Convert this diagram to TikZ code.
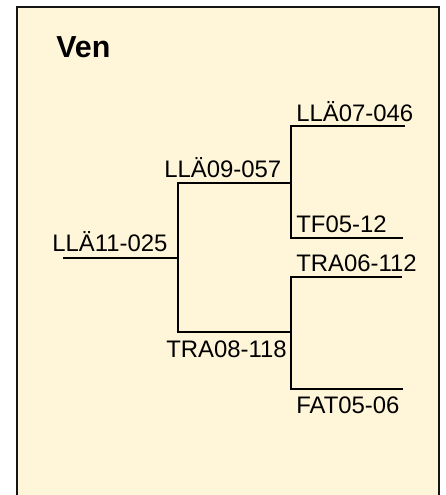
\documentclass[tikz,border=0pt]{standalone}
\usepackage{fontspec}
\setmainfont{Liberation Sans}
\usepackage{xcolor}
\usetikzlibrary{positioning}
\definecolor{venbg}{RGB}{255, 246, 217}
\definecolor{venframe}{RGB}{20, 20, 20}
\definecolor{venline}{RGB}{0, 0, 0}

\begin{document}
\begin{tikzpicture}[
    x=0.02cm, y=-0.02cm,
    title/.style={
        font=\fontsize{17.3}{20}\selectfont\bfseries,
        anchor=base west,
        inner sep=0pt
    },
    tag/.style={
        font=\fontsize{13.6}{16}\selectfont,
        anchor=base west,
        inner sep=0pt
    },
    branch/.style={
        draw=venline,
        line width=1.1pt
    }
]

\useasboundingbox (0,0) rectangle (446,495);

% Background rectangle
\begin{scope}
    \clip (0,0) rectangle (446,495);
    \draw[fill=venbg, draw=venframe, line width=1.4pt] (17,7) rectangle (439,530);
\end{scope}

% Title
\node[title] (ven) at (56,57) {Ven};

% Junction points
\coordinate (r0) at (63,258);
\coordinate (r1) at (178,258);
\coordinate (u0) at (178,183);
\coordinate (u1) at (291,183);
\coordinate (d0) at (178,332);
\coordinate (d1) at (291,332);
\coordinate (uu0) at (291,126);
\coordinate (uu1) at (405,126);
\coordinate (ud0) at (291,238);
\coordinate (ud1) at (403,238);
\coordinate (du0) at (291,277);
\coordinate (du1) at (402,277);
\coordinate (dd0) at (291,389);
\coordinate (dd1) at (403,389);

% Branches
\draw[branch] (r0) -- (r1);
\draw[branch] (u1) -- (u0) -- (d0) -- (d1);
\draw[branch] (uu1) -- (uu0) -- (ud0) -- (ud1);
\draw[branch] (du1) -- (du0) -- (dd0) -- (dd1);

% Labels
\node[tag] (lla11) at (52,251) {LLÄ11-025};
\node[tag] (lla09) at (164,177) {LLÄ09-057};
\node[tag] (tra08) at (166,357) {TRA08-118};
\node[tag] (lla07) at (296,121) {LLÄ07-046};
\node[tag] (tf05) at (296,232) {TF05-12};
\node[tag] (tra06) at (296,271) {TRA06-112};
\node[tag] (fat05) at (296,413) {FAT05-06};

\end{tikzpicture}
\end{document}
